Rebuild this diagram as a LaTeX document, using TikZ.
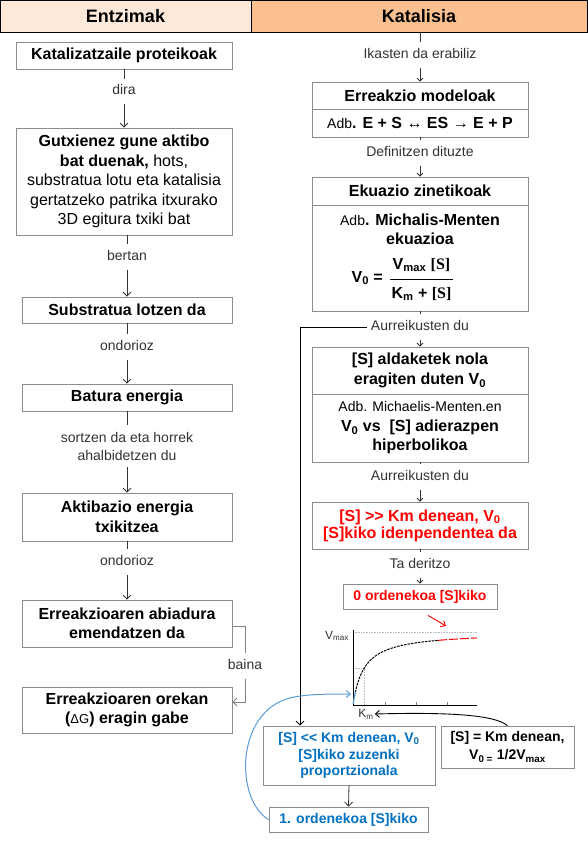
\documentclass[tikz,border=0pt]{standalone}
\usepackage{fontspec}
\setmainfont{Liberation Sans}
\newfontfamily\serifS{Liberation Serif}
\usetikzlibrary{arrows.meta,calc}
\definecolor{boxgray}{HTML}{8C8C8C}
\definecolor{labgray}{HTML}{333333}
\definecolor{peach}{HTML}{FDE9D9}
\definecolor{orangeh}{HTML}{FAC090}
\definecolor{redt}{HTML}{FF0000}
\definecolor{bluet}{HTML}{0070C0}
\definecolor{bluec}{HTML}{5B9BD5}
\newcommand{\fsz}[2]{\fontsize{#1}{#2}\selectfont}
\newcommand{\Sb}{{\serifS\bfseries [S]}}
\begin{document}
\begin{tikzpicture}[x=1pt,y=-1pt,
 box/.style={draw=boxgray, line width=0.8pt, inner sep=0pt, align=center, font=\fsz{16}{19.5}\bfseries, text=black},
 head/.style={draw=black, line width=0.8pt, inner sep=0pt, minimum height=32pt, font=\fsz{18}{20}\bfseries},
 lab/.style={font=\fsz{14}{18}, text=labgray, inner xsep=2pt, inner ysep=6pt, text height=10pt, text depth=3pt},
 labtwo/.style={font=\fsz{14}{18}, text=labgray, inner xsep=2pt, inner ysep=7pt, align=center},
 txt/.style={inner sep=0pt, align=center, font=\fsz{16}{19}\bfseries},
 conn/.style={draw=labgray, line width=0.8pt},
 arr/.style={conn, -{Straight Barb[length=4pt,width=8pt]}},
 sarr/.style={conn, -{Straight Barb[length=3pt,width=6pt]}},
]
\useasboundingbox (0,0) rectangle (587,848);
\fill[white] (0,0) rectangle (587,848);

% header
\node[head, fill=peach, minimum width=251pt] (hE) at (125.5,16) {Entzimak};
\node[head, fill=orangeh, minimum width=336pt] (hK) at (419,16) {Katalisia};

% left column
\node[box, minimum width=216pt, minimum height=27pt] (B1) at (124,55.5) {Katalizatzaile proteikoak};
\node[lab] (l1) at (124,91.5) {dira};
\node[box, minimum width=216pt, minimum height=107pt] (B2) at (124,181.5)
 {Gutxienez gune aktibo\\ bat duenak,{\mdseries{} hots,}\\ {\mdseries substratua lotu eta katalisia}\\ {\mdseries gertatzeko patrika itxurako}\\ {\mdseries 3D egitura txiki bat}};
\node[lab] (l2) at (127,257) {bertan};
\node[box, minimum width=210pt, minimum height=26pt] (B3) at (127,310) {Substratua lotzen da};
\node[lab] (l3) at (127,347) {ondorioz};
\node[box, minimum width=210pt, minimum height=27pt] (B4) at (127,397.5) {Batura energia};
\node[labtwo] (l4) at (127,446) {sortzen da eta horrek\\ ahalbidetzen du};
\node[box, minimum width=210pt, minimum height=48pt] (B5) at (127,517) {Aktibazio energia\\ txikitzea};
\node[lab] (l5) at (127,562) {ondorioz};
\node[box, minimum width=210pt, minimum height=47pt] (B6) at (127,623.5) {Erreakzioaren abiadura\\ emendatzen da};
\node[box, minimum width=210pt, minimum height=46pt] (B7) at (127,710) {Erreakzioaren orekan\\ ({\mdseries\fsz{13}{19}ΔG}) eragin gabe};
\node[lab] (baina) at (245,666) {baina};

\draw[conn] (B1.south) -- (l1.north);
\draw[arr] (l1.south) -- (B2.north);
\draw[conn] (l2.north |- B2.south) -- (l2.north);
\draw[arr] (l2.south) -- (B3.north);
\draw[conn] (B3.south) -- (l3.north);
\draw[arr] (l3.south) -- (B4.north);
\draw[conn] (B4.south) -- (l4.north);
\draw[arr] (l4.south) -- (B5.north);
\draw[conn] (B5.south) -- (l5.north);
\draw[arr] (l5.south) -- (B6.north);
\draw[conn, draw=gray] ([yshift=-3pt]B6.east) -| (baina.north);
\draw[arr, draw=gray] (baina.south) |- ([yshift=8pt]B7.east);

% right column
\node[lab] (i1) at (420,55) {Ikasten da erabiliz};
\node[box, minimum width=216pt, minimum height=27pt] (R1h) at (420,95.5) {Erreakzio modeloak};
\node[box, minimum width=216pt, minimum height=28pt] (R1b) at (420,123) {{\mdseries\fsz{14}{18}Adb}. E + S {\mdseries ↔} ES {\mdseries →} E + P};
\node[lab] (i2) at (420,153) {Definitzen dituzte};
\node[box, minimum width=216pt, minimum height=28pt] (R2h) at (420,191) {Ekuazio zinetikoak};
\node[box, minimum width=216pt, minimum height=106pt] (R2b) at (420,258) {};
\node[txt] (R2t) at (420,229.5) {{\mdseries\fsz{14}{19}Adb}. Michalis-Menten\\ ekuazioa};
\node[txt, anchor=east] (V0) at (383,278) {V\textsubscript{0} =};
\node[txt] (num) at (421.5,265) {V\textsubscript{max} \Sb};
\node[txt] (den) at (421.5,294) {K\textsubscript{m} + \Sb};
\draw[black, line width=0.9pt] (390,279) -- (453,279);

\node[lab, inner xsep=4pt] (i3) at (420,327) {Aurreikusten du};
\node[box, minimum width=216pt, minimum height=47pt, font=\fsz{16}{20}\bfseries] (R3h) at (420,370.5) {{[S]} aldaketek nola\\ eragiten duten V\textsubscript{0}};
\node[box, minimum width=216pt, minimum height=68pt] (R3b) at (420,428) {{\mdseries\fsz{14}{19}Adb. Michaelis-Menten.en}\\ V\textsubscript{0} vs\ \ {[S]} adierazpen\\ hiperbolikoa};
\node[lab] (i4) at (420,477) {Aurreikusten du};
\node[box, minimum width=216pt, minimum height=47pt, text=redt, font=\fsz{16}{17}\bfseries] (R4) at (420,525.5) {{[S]} >{}> Km denean, V\textsubscript{0}\\ {[S]}kiko idenpendentea da};
\node[lab] (i5) at (420,565) {Ta deritzo};
\node[box, minimum width=154pt, minimum height=25pt, text=redt, font=\fsz{14}{17}\bfseries] (R5) at (420,596.5) {0 ordenekoa {[S]}kiko};

\node[box, minimum width=172pt, minimum height=59pt, text=bluet, font=\fsz{14}{16.5}\bfseries] (R6) at (349,755.5) {{[S]} <{}< Km denean, V\textsubscript{0}\\ {[S]}kiko zuzenki\\ proportzionala};
\node[box, minimum width=133pt, minimum height=42pt, font=\fsz{14}{18}\bfseries] (R7) at (507.5,747) {{[S]} = Km denean,\\ V\textsubscript{0 =} 1/2V\textsubscript{max}};
\node[box, minimum width=159pt, minimum height=25pt, text=bluet, font=\fsz{14}{17}\bfseries] (R8) at (348.5,819.5) {1. ordenekoa {[S]}kiko};

\draw[conn] (hK.south -| i1) -- (i1.north);
\draw[sarr] (i1.south) -- (R1h.north);
\draw[conn] (R1b.south) -- (i2.north);
\draw[sarr] (i2.south) -- (R2h.north);
\draw[conn] (R2b.south) -- (i3.north);
\draw[sarr] (i3.south) -- (R3h.north);
\draw[conn] (R3b.south) -- (i4.north);
\draw[sarr] (i4.south) -- (R4.north);
\draw[conn] (R4.south) -- (i5.north);
\draw[sarr] (i5.south) -- (R5.north);
\draw[arr] (R6.south) -- (R8.north);

\coordinate (bend) at (300,327);
\draw[conn, draw=black, -{Straight Barb[length=4pt,width=8pt]}] (i3.west) -- (bend) -- (bend |- R6.north);

% chart
\draw[gray!55, densely dotted, line width=0.6pt] (353,632) -- (477,632);
\draw[gray!55, densely dotted, line width=0.6pt] (353,668.5) -| (364,705);
\draw[black, line width=0.9pt] (353,630) -- (353,705) -- (477,705);
\foreach \tx in {385,416,447} \draw[gray, line width=0.6pt] (\tx,705) -- (\tx,702);
\draw[black, line width=1pt, dash pattern=on 2.5pt off 1pt] plot[domain=2.3:85, samples=80] ({353+\x},{705-73*\x/(11+\x)});
\draw[redt, line width=1pt, dash pattern=on 9pt off 2pt] plot[domain=85:124, samples=30] ({353+\x},{705-73*\x/(11+\x)});
\draw[bluec, line width=1.3pt] plot[domain=0.2:2.5, samples=10] ({353+\x},{705-73*\x/(11+\x)});
\node[inner sep=1pt, font=\fsz{12}{14}, text=labgray] (vmax) at (337,636) {V\textsubscript{max}};
\node[inner sep=1pt, font=\fsz{12}{14}, text=labgray] (Km) at (366,714) {K\textsubscript{m}};

\coordinate (blueend) at (351,694);
\coordinate (redend) at (446,626);
\draw[redt, line width=0.9pt, -{Straight Barb[length=4pt,width=7pt]}] ([xshift=8pt,yshift=-6pt]R5.south) -- (redend);
\draw[black, line width=0.9pt, -{Straight Barb[length=4pt,width=7pt]}] (R7.north) .. controls (495,715) and (450,712) .. (Km.east);
\draw[bluec, line width=1pt, -{Straight Barb[length=4pt,width=7pt]}] (R8.west) .. controls (235,800) and (235,712) .. (290,698) .. controls (305,694) and (330,694) .. (blueend);
\end{tikzpicture}
\end{document}
